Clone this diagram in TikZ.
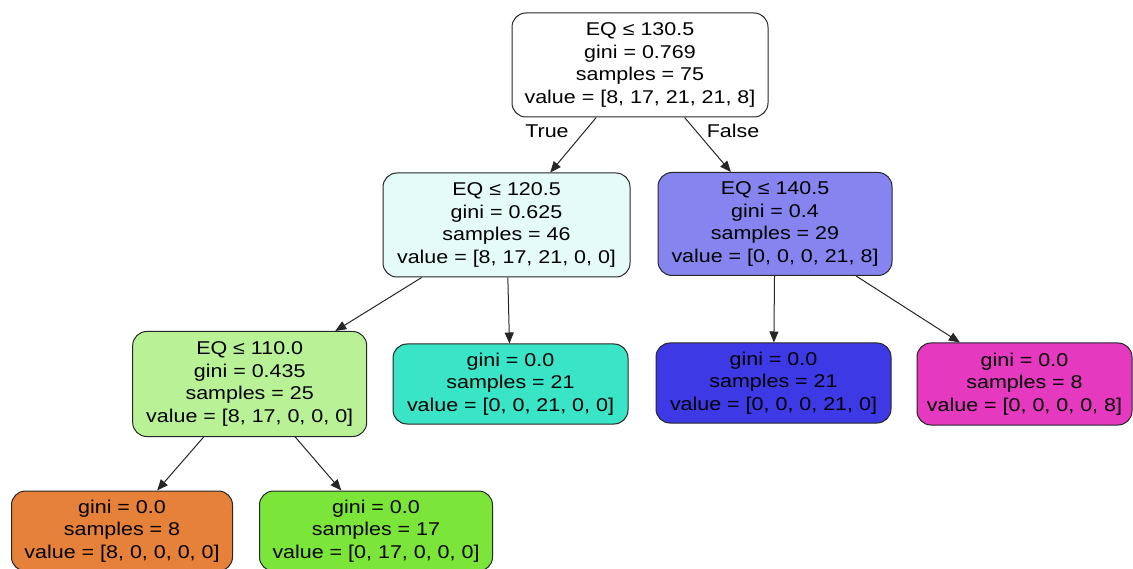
\documentclass[tikz,border=0pt]{standalone}
\usepackage{fontspec}
\setmainfont{Liberation Sans}[FakeStretch=1.16]
\usetikzlibrary{arrows.meta}
\definecolor{cRoot}{RGB}{255,255,255}
\definecolor{cLeft}{RGB}{228,251,247}
\definecolor{cRight}{RGB}{134,132,239}
\definecolor{cLG}{RGB}{185,241,150}
\definecolor{cTeal}{RGB}{57,229,198}
\definecolor{cBlue}{RGB}{60,57,229}
\definecolor{cMag}{RGB}{229,57,192}
\definecolor{cOrange}{RGB}{229,129,57}
\definecolor{cGreen}{RGB}{123,229,57}
\begin{document}
\begin{tikzpicture}[x=1pt,y=-1pt,
  tn/.style={draw=black!85, line width=1pt, rounded corners=14pt, align=center,
    inner sep=0pt, font=\fontsize{18.5}{22.5}\selectfont, text=black},
  edge/.style={draw=black!85, line width=1pt, -{Triangle[length=11pt,width=9pt]}},
  lbl/.style={font=\fontsize{18.5}{22.5}\selectfont, inner sep=0pt}]
\useasboundingbox (0,0) rectangle (1133,569);
\node[tn, fill=cRoot, minimum width=256pt, minimum height=104pt] (root) at (640,65)
  {EQ ≤ 130.5\\gini = 0.769\\samples = 75\\value = [8, 17, 21, 21, 8]};
\node[tn, fill=cLeft, minimum width=247pt, minimum height=104pt] (left) at (506.5,225)
  {EQ ≤ 120.5\\gini = 0.625\\samples = 46\\value = [8, 17, 21, 0, 0]};
\node[tn, fill=cRight, minimum width=234pt, minimum height=103pt] (right) at (775,224)
  {EQ ≤ 140.5\\gini = 0.4\\samples = 29\\value = [0, 0, 0, 21, 8]};
\node[tn, fill=cLG, minimum width=234pt, minimum height=105pt] (n110) at (249.7,384)
  {EQ ≤ 110.0\\gini = 0.435\\samples = 25\\value = [8, 17, 0, 0, 0]};
\node[tn, fill=cTeal, minimum width=235pt, minimum height=80pt] (teal) at (510.5,384)
  {gini = 0.0\\samples = 21\\value = [0, 0, 21, 0, 0]};
\node[tn, fill=cBlue, minimum width=235pt, minimum height=80pt] (blue) at (773.5,383)
  {gini = 0.0\\samples = 21\\value = [0, 0, 0, 21, 0]};
\node[tn, fill=cMag, minimum width=215pt, minimum height=82pt] (mag) at (1024.5,384)
  {gini = 0.0\\samples = 8\\value = [0, 0, 0, 0, 8]};
\node[tn, fill=cOrange, minimum width=221pt, minimum height=80pt] (orange) at (122,531)
  {gini = 0.0\\samples = 8\\value = [8, 0, 0, 0, 0]};
\node[tn, fill=cGreen, minimum width=233pt, minimum height=80pt] (green) at (376,531)
  {gini = 0.0\\samples = 17\\value = [0, 17, 0, 0, 0]};
\draw[edge] (root) -- (left);
\draw[edge] (root) -- (right);
\draw[edge] (left) -- (n110);
\draw[edge] (left) -- (teal);
\draw[edge] (right) -- (blue);
\draw[edge] (right) -- (mag);
\draw[edge] (n110) -- (orange);
\draw[edge] (n110) -- (green);
\node[lbl] (ltrue) at (547,131) {True};
\node[lbl] (lfalse) at (733,131) {False};
\end{tikzpicture}
\end{document}
